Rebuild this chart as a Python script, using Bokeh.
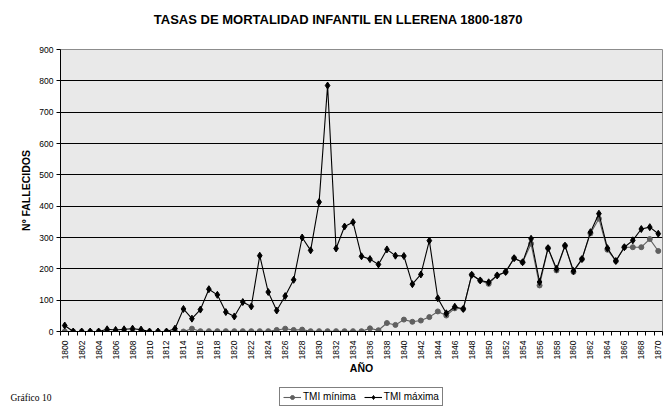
import math
from bokeh.plotting import figure
from bokeh.layouts import column
from bokeh.models import FixedTicker, Legend, LegendItem, Range1d, Label, ColumnDataSource
from bokeh.embed import file_html
from bokeh.resources import INLINE

# ---- data ----
years = list(range(1800, 1871))
tmi_max = [19, 0, 0, 0, 0, 7, 5, 7, 9, 6,
           0, 0, 0, 9, 72, 41, 70, 135, 117, 62,
           48, 94, 80, 242, 126, 67, 113, 165, 300, 259,
           413, 785, 265, 335, 349, 240, 231, 214, 262, 242,
           241, 151, 182, 290, 106, 58, 79, 72, 181, 163,
           157, 179, 190, 234, 221, 296, 158, 266, 200, 274,
           193, 231, 317, 376, 266, 225, 269, 291, 327, 333,
           312]
tmi_min = [0, 0, 0, 0, 0, 0, 0, 0, 0, 0,
           0, 0, 0, 0, 0, 9, 1, 1, 1, 1,
           1, 1, 1, 1, 1, 5, 9, 5, 6, 1,
           1, 1, 1, 1, 1, 1, 10, 4, 27, 21,
           38, 31, 35, 46, 64, 51, 74, 72, 181, 163,
           152, 179, 190, 234, 221, 280, 147, 266, 195, 274,
           190, 231, 313, 360, 261, 225, 269, 269, 269, 295,
           257]
y_ticks = list(range(0, 901, 100))
x_label_years = list(range(1800, 1871, 2))
category_edges = [y - 0.5 for y in range(1800, 1872)]

title_text = "TASAS DE MORTALIDAD INFANTIL EN LLERENA 1800-1870"
x_title = "AÑO"
y_title = "Nº FALLECIDOS"
series_names = ["TMI mínima", "TMI máxima"]
note_text = "Gráfico 10"

FONT = "Liberation Sans"
GRAY = "#606060"

src = ColumnDataSource(dict(year=years, tmi_min=tmi_min, tmi_max=tmi_max))


def strip(height):
    f = figure(width=672, height=height, output_backend="svg", toolbar_location=None,
               x_range=Range1d(0, 672), y_range=Range1d(-2000, -2000 + height),
               x_axis_type=None, y_axis_type=None,
               min_border_left=0, min_border_right=0, min_border_top=0, min_border_bottom=0,
               background_fill_color="white", border_fill_color="white",
               outline_line_color=None)
    f.frame_align = False
    f.grid.visible = False
    return f


# ---------------- title strip ----------------
t = strip(30)
t.add_layout(Label(x=338, y=11, x_units="screen", y_units="screen", text=title_text,
                   text_align="center", text_baseline="middle",
                   text_font=FONT, text_font_size="13px", text_font_style="bold",
                   text_color="black"))

# ---------------- main chart ----------------
p = figure(width=672, height=354, output_backend="svg", toolbar_location=None, title=None,
           x_range=Range1d(1799.5, 1870.5), y_range=Range1d(0, 900),
           min_border_left=60, min_border_right=10, min_border_top=19, min_border_bottom=53,
           background_fill_color="#E9E9E9", border_fill_color="white",
           outline_line_color="#8C8C8C", outline_line_width=1)
p.frame_align = False

p.xgrid.visible = False
p.ygrid.ticker = FixedTicker(ticks=y_ticks)
p.ygrid.grid_line_color = "black"
p.ygrid.grid_line_width = 1

ya = p.yaxis[0]
ya.ticker = FixedTicker(ticks=y_ticks)
ya.axis_line_color = "black"
ya.major_tick_line_color = "black"
ya.major_tick_out = 4
ya.major_tick_in = 0
ya.minor_tick_line_color = None
ya.major_label_standoff = 3
ya.major_label_text_font = FONT
ya.major_label_text_font_size = "8.5px"
ya.major_label_text_color = "black"
ya.axis_label = y_title
ya.axis_label_text_font = FONT
ya.axis_label_text_font_size = "10.5px"
ya.axis_label_text_font_style = "bold"
ya.axis_label_text_color = "black"
ya.axis_label_standoff = 4

xa = p.xaxis[0]
xa.ticker = FixedTicker(ticks=x_label_years, minor_ticks=category_edges)
xa.axis_line_color = "black"
xa.major_tick_line_color = None
xa.major_tick_out = 0
xa.major_tick_in = 0
xa.minor_tick_line_color = "black"
xa.minor_tick_out = 4
xa.minor_tick_in = 0
xa.major_label_orientation = math.pi / 2
xa.major_label_standoff = 5
xa.major_label_text_font = FONT
xa.major_label_text_font_size = "8.5px"
xa.major_label_text_color = "black"
xa.axis_label = x_title
xa.axis_label_text_font = FONT
xa.axis_label_text_font_size = "10.5px"
xa.axis_label_text_font_style = "bold"
xa.axis_label_text_color = "black"
xa.axis_label_standoff = 0


def draw_series(fig):
    lmin = fig.line("year", "tmi_min", source=src, line_color=GRAY, line_width=1.1)
    smin = fig.scatter("year", "tmi_min", source=src, marker="circle", size=5,
                       fill_color=GRAY, line_color=GRAY)
    lmax = fig.line("year", "tmi_max", source=src, line_color="black", line_width=1.1)
    smax = fig.scatter("year", "tmi_max", source=src, marker="diamond", size=7,
                       fill_color="black", line_color="black")
    return lmin, smin, lmax, smax


draw_series(p)

# ---------------- legend / footnote strip ----------------
q = strip(23)
ql_min, qs_min, ql_max, qs_max = draw_series(q)

legend = Legend(items=[LegendItem(label=series_names[0], renderers=[ql_min, qs_min]),
                       LegendItem(label=series_names[1], renderers=[ql_max, qs_max])],
                orientation="horizontal", location=(279, 1),
                border_line_color="black", border_line_width=1,
                background_fill_color="white", background_fill_alpha=1,
                label_text_font=FONT, label_text_font_size="10px", label_text_color="black",
                glyph_width=18, glyph_height=10, label_standoff=2, spacing=8,
                padding=3, margin=0, label_height=11)
q.add_layout(legend, "center")

q.add_layout(Label(x=10, y=10, x_units="screen", y_units="screen", text=note_text,
                   text_baseline="middle",
                   text_font="Liberation Serif", text_font_size="9.5px", text_color="black"))

layout = column(t, p, q, spacing=0)
open("out.html", "w").write(file_html(layout, INLINE))
